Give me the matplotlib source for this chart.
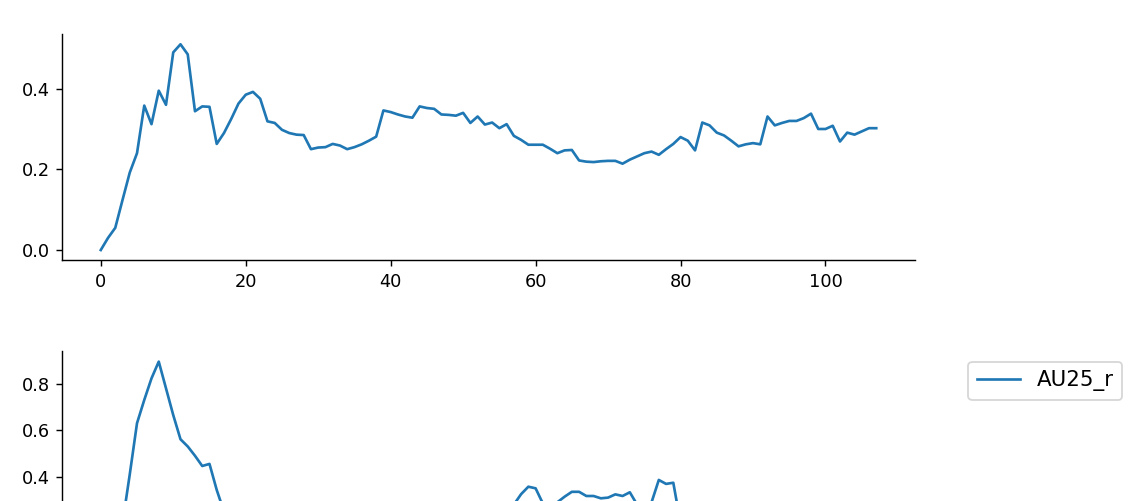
import matplotlib
matplotlib.use("Agg")
import matplotlib.pyplot as plt
from matplotlib.ticker import MultipleLocator

frames = list(range(108))

top_values = [
    0.0, 0.03, 0.055, 0.124, 0.192, 0.24, 0.358, 0.312, 0.395, 0.36,
    0.49, 0.51, 0.485, 0.344, 0.356, 0.355, 0.263, 0.29, 0.325, 0.363,
    0.385, 0.392, 0.375, 0.319, 0.315, 0.298, 0.29, 0.286, 0.285, 0.25,
    0.254, 0.255, 0.263, 0.259, 0.25, 0.255, 0.262, 0.271, 0.281, 0.346,
    0.342, 0.336, 0.331, 0.328, 0.356, 0.352, 0.35, 0.336, 0.335, 0.333,
    0.34, 0.315, 0.331, 0.311, 0.316, 0.302, 0.312, 0.283, 0.273, 0.261,
    0.261, 0.261, 0.251, 0.24, 0.247, 0.248, 0.222, 0.219, 0.218, 0.22,
    0.221, 0.221, 0.214, 0.224, 0.232, 0.24, 0.244, 0.236, 0.25, 0.263,
    0.28, 0.271, 0.247, 0.316, 0.309, 0.291, 0.284, 0.271, 0.257, 0.262,
    0.265, 0.262, 0.331, 0.309, 0.315, 0.32, 0.32, 0.327, 0.338, 0.3,
    0.3, 0.308, 0.269, 0.291, 0.286, 0.294, 0.302, 0.302,
]

au25_values = [
    0.0, 0.05, 0.12, 0.2, 0.41, 0.63, 0.73, 0.823, 0.895, 0.78,
    0.665, 0.561, 0.53, 0.49, 0.446, 0.455, 0.343, 0.25, 0.22, 0.2,
    0.21, 0.19, 0.18, 0.17, 0.19, 0.2, 0.18, 0.17, 0.16, 0.15,
    0.16, 0.17, 0.16, 0.15, 0.16, 0.17, 0.18, 0.19, 0.2, 0.22,
    0.23, 0.22, 0.21, 0.22, 0.23, 0.24, 0.23, 0.22, 0.23, 0.24,
    0.23, 0.24, 0.25, 0.26, 0.27, 0.28, 0.285, 0.28, 0.325, 0.357,
    0.35, 0.285, 0.27, 0.29, 0.314, 0.335, 0.335, 0.317, 0.317, 0.307,
    0.31, 0.324, 0.317, 0.333, 0.28, 0.27, 0.29, 0.386, 0.369, 0.374,
    0.2, 0.24, 0.23, 0.22, 0.21, 0.2, 0.21, 0.22, 0.2, 0.19,
    0.18, 0.19, 0.2, 0.21, 0.2, 0.19, 0.18, 0.17, 0.18, 0.19,
    0.2, 0.19, 0.18, 0.17, 0.18, 0.19, 0.2, 0.19,
]

legend_label = "AU25_r"

DPI = 128
W, H = 1136, 501
fig = plt.figure(figsize=(W / DPI, H / DPI), dpi=DPI)

def frac_axes(left_px, right_px, top_px, bottom_px):
    return fig.add_axes([left_px / W, (H - bottom_px) / H,
                         (right_px - left_px) / W, (bottom_px - top_px) / H])

ax1 = frac_axes(62, 915, 34, 260.3)
ax1.plot(frames, top_values, color="tab:blue")

ax2 = frac_axes(62, 915, 351.2, 580.1)
ax2.plot(frames, au25_values, color="tab:blue", label=legend_label)
ax2.legend(loc="upper left", bbox_to_anchor=(1.05, 1), fontsize=12)
# x tick labels of the lower panel fall below the visible area
ax2.tick_params(axis="x", labelbottom=False)

for ax in (ax1, ax2):
    ax.yaxis.set_major_locator(MultipleLocator(0.2))
    ax.spines["top"].set_visible(False)
    ax.spines["right"].set_visible(False)

fig.savefig("out.png", dpi=DPI)
